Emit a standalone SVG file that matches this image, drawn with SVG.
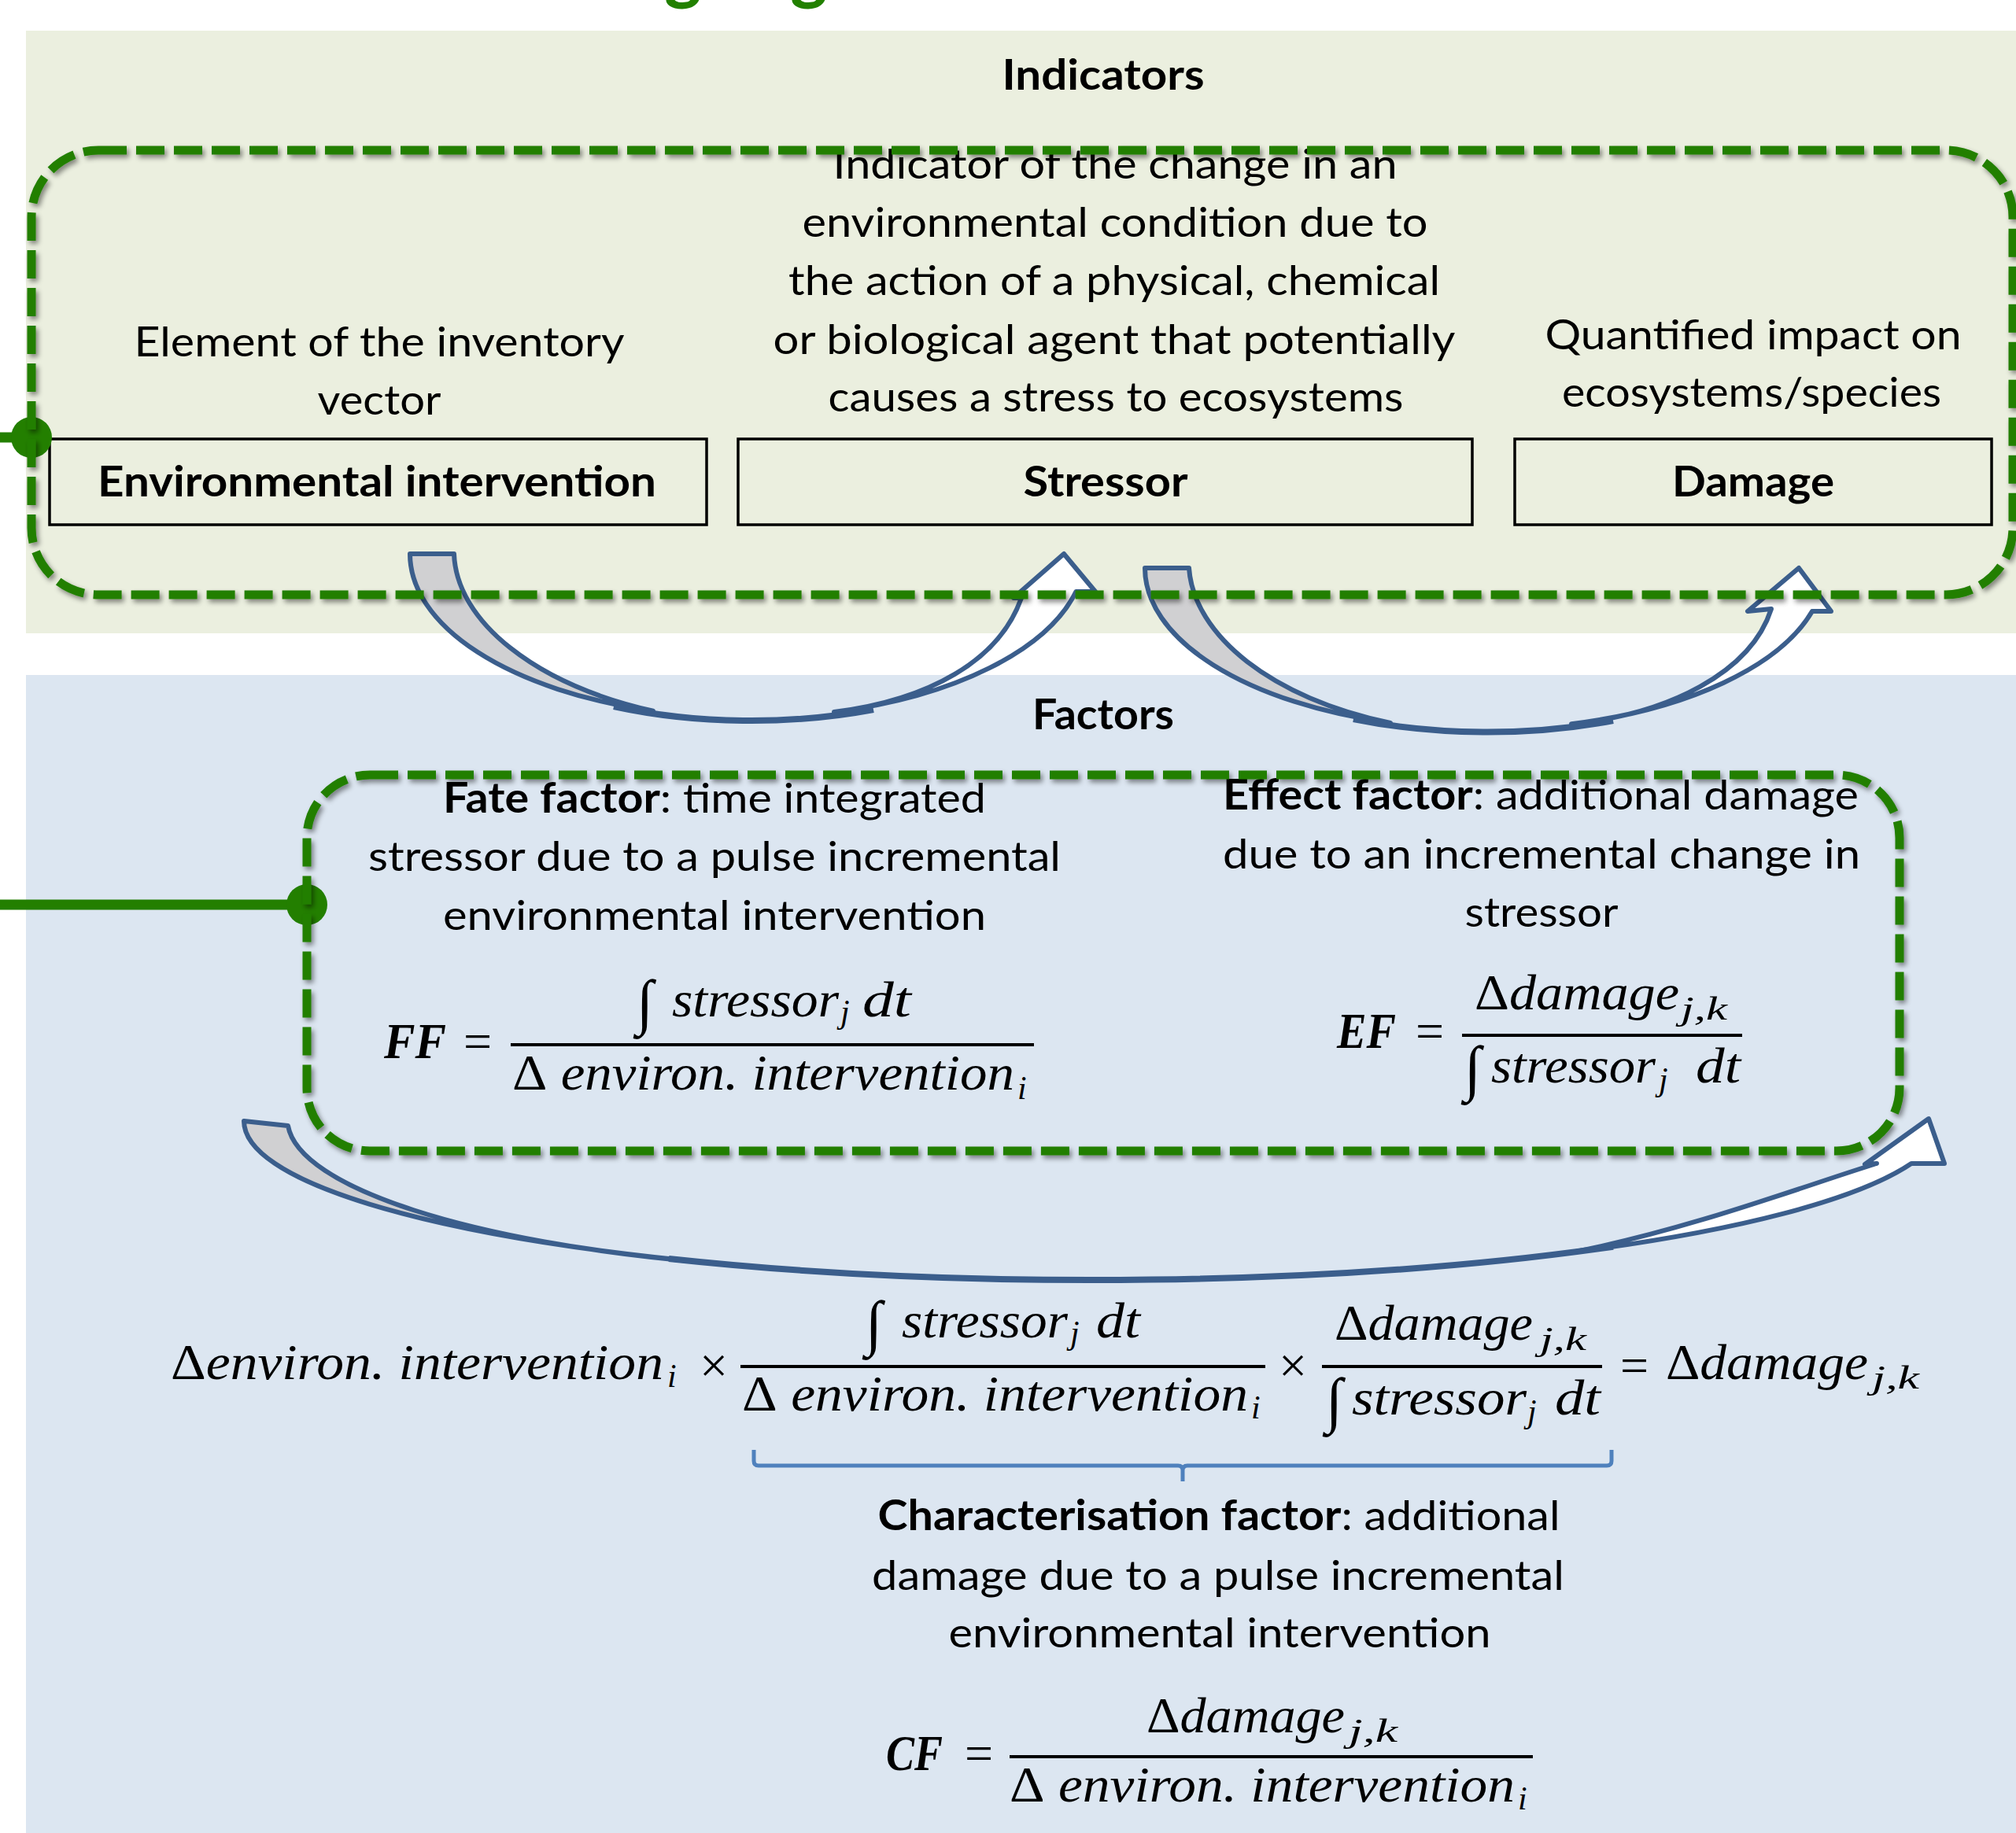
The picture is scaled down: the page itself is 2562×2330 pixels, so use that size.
<svg xmlns="http://www.w3.org/2000/svg" width="2562" height="2330" viewBox="0 0 2562 2330">
<style>
.t{font-family:Lato,'Liberation Sans',sans-serif;font-size:53px;fill:#000}
.b{font-weight:700}
.mc{text-anchor:middle}
.m{font-family:'Liberation Serif','DejaVu Serif',serif;font-style:italic;font-size:64px;fill:#000}
.up{font-style:normal}
.bi{font-weight:700;font-style:italic}
.sub{font-size:42px}
.box{fill:none;stroke:#000;stroke-width:3.5}
.dash{fill:none;stroke:#237F00;stroke-width:11;stroke-dasharray:36 12}
.arr{stroke:#3B5E8C;stroke-width:6;stroke-linejoin:round}
.gray{fill:#D0D0D2}
.wh{fill:#FFFFFF}
.bar{stroke:#000;stroke-width:4}
.conn{stroke:#237F00;stroke-width:13;fill:none}
.dot{fill:#237F00}
</style>
<defs>
<filter id="sh" x="-5%" y="-5%" width="110%" height="110%">
<feDropShadow dx="3" dy="4" stdDeviation="3" flood-color="#000" flood-opacity="0.45"/>
</filter>
</defs>
<rect width="2562" height="2330" fill="#FFFFFF"/>
<g id="title-fragment">
<text x="868" y="-5" style="font-family:Lato,sans-serif;font-weight:900;font-size:88px;fill:#228000" text-anchor="middle">g</text>
<text x="1028" y="-5" style="font-family:Lato,sans-serif;font-weight:900;font-size:88px;fill:#228000" text-anchor="middle">g</text>
</g>
<g id="panel-indicators">
<rect x="33" y="39" width="2529" height="766" fill="#EBEFDF"/>
<text class="t b mc" x="1402" y="114" textLength="257" lengthAdjust="spacingAndGlyphs">Indicators</text>
</g>
<g id="panel-factors">
<rect x="33" y="858" width="2529" height="1472" fill="#DCE6F1"/>
<text class="t b mc" x="1402" y="927" textLength="180" lengthAdjust="spacingAndGlyphs">Factors</text>
</g>
<g id="node-environmental-intervention">
<text class="t mc" x="482" y="453" textLength="623" lengthAdjust="spacingAndGlyphs">Element of the inventory</text>
<text class="t mc" x="482" y="527" textLength="157" lengthAdjust="spacingAndGlyphs">vector</text>
<rect class="box" x="63" y="558" width="835" height="109"/>
<text class="t b mc" x="479" y="631" textLength="710" lengthAdjust="spacingAndGlyphs">Environmental intervention</text>
</g>
<g id="node-stressor">
<text class="t mc" x="1417" y="227" textLength="717" lengthAdjust="spacingAndGlyphs">Indicator of the change in an</text>
<text class="t mc" x="1417" y="301" textLength="795" lengthAdjust="spacingAndGlyphs">environmental condition due to</text>
<text class="t mc" x="1416" y="375" textLength="828" lengthAdjust="spacingAndGlyphs">the action of a physical, chemical</text>
<text class="t mc" x="1416" y="450" textLength="867" lengthAdjust="spacingAndGlyphs">or biological agent that potentially</text>
<text class="t mc" x="1418" y="523" textLength="731" lengthAdjust="spacingAndGlyphs">causes a stress to ecosystems</text>
<rect class="box" x="938" y="558" width="933" height="109"/>
<text class="t b mc" x="1405" y="631" textLength="209" lengthAdjust="spacingAndGlyphs">Stressor</text>
</g>
<g id="node-damage">
<text class="t mc" x="2228" y="444" textLength="529" lengthAdjust="spacingAndGlyphs">Quantified impact on</text>
<text class="t mc" x="2226" y="517" textLength="482" lengthAdjust="spacingAndGlyphs">ecosystems/species</text>
<rect class="box" x="1925" y="558" width="606" height="109"/>
<text class="t b mc" x="2228" y="631" textLength="206" lengthAdjust="spacingAndGlyphs">Damage</text>
</g>
<g id="node-fate-factor">
<text class="t mc" x="908" y="1033" textLength="690" lengthAdjust="spacingAndGlyphs"><tspan class="b">Fate factor</tspan>: time integrated</text>
<text class="t mc" x="908" y="1107" textLength="880" lengthAdjust="spacingAndGlyphs">stressor due to a pulse incremental</text>
<text class="t mc" x="908" y="1182" textLength="690" lengthAdjust="spacingAndGlyphs">environmental intervention</text>
<text class="m bi" x="488" y="1345" textLength="79" lengthAdjust="spacingAndGlyphs">FF</text>
<text class="m up mc" x="607" y="1345">=</text>
<line class="bar" x1="649" y1="1328" x2="1314" y2="1328"/>
<text class="m up" x="809" y="1300" style="font-size:78px">∫</text>
<text class="m" x="854" y="1292" textLength="212" lengthAdjust="spacingAndGlyphs">stressor</text>
<text class="m sub" x="1068" y="1300">j</text>
<text class="m" x="1096" y="1292" textLength="62" lengthAdjust="spacingAndGlyphs">dt</text>
<text class="m" x="651" y="1385" textLength="638" lengthAdjust="spacingAndGlyphs"><tspan class="up">Δ</tspan> environ. intervention</text>
<text class="m sub" x="1293" y="1397">i</text>
</g>
<g id="node-effect-factor">
<text class="t mc" x="1958" y="1029" textLength="808" lengthAdjust="spacingAndGlyphs"><tspan class="b">Effect factor</tspan>: additional damage</text>
<text class="t mc" x="1959" y="1104" textLength="810" lengthAdjust="spacingAndGlyphs">due to an incremental change in</text>
<text class="t mc" x="1959" y="1178" textLength="195" lengthAdjust="spacingAndGlyphs">stressor</text>
<text class="m bi" x="1699" y="1332" textLength="75" lengthAdjust="spacingAndGlyphs">EF</text>
<text class="m up mc" x="1817" y="1332">=</text>
<line class="bar" x1="1858" y1="1316" x2="2214" y2="1316"/>
<text class="m" x="1874" y="1283" textLength="260" lengthAdjust="spacingAndGlyphs"><tspan class="up">Δ</tspan>damage</text>
<text class="m sub" x="2136" y="1296" textLength="59" lengthAdjust="spacingAndGlyphs">j,k</text>
<text class="m up" x="1861" y="1384" style="font-size:78px">∫</text>
<text class="m" x="1895" y="1376" textLength="209" lengthAdjust="spacingAndGlyphs">stressor</text>
<text class="m sub" x="2108" y="1386">j</text>
<text class="m" x="2155" y="1376" textLength="57" lengthAdjust="spacingAndGlyphs">dt</text>
</g>
<g id="node-equation">
<text class="m" x="217" y="1753" textLength="626" lengthAdjust="spacingAndGlyphs"><tspan class="up">Δ</tspan>environ. intervention</text>
<text class="m sub" x="848" y="1763">i</text>
<text class="m up mc" x="907" y="1757">×</text>
<line class="bar" x1="941" y1="1737" x2="1608" y2="1737"/>
<text class="m up" x="1100" y="1708" style="font-size:78px">∫</text>
<text class="m" x="1146" y="1700" textLength="211" lengthAdjust="spacingAndGlyphs">stressor</text>
<text class="m sub" x="1360" y="1708">j</text>
<text class="m" x="1393" y="1700" textLength="56" lengthAdjust="spacingAndGlyphs">dt</text>
<text class="m" x="943" y="1793" textLength="643" lengthAdjust="spacingAndGlyphs"><tspan class="up">Δ</tspan> environ. intervention</text>
<text class="m sub" x="1590" y="1803">i</text>
<text class="m up mc" x="1643" y="1757">×</text>
<line class="bar" x1="1680" y1="1737" x2="2036" y2="1737"/>
<text class="m" x="1696" y="1703" textLength="252" lengthAdjust="spacingAndGlyphs"><tspan class="up">Δ</tspan>damage</text>
<text class="m sub" x="1957" y="1716" textLength="59" lengthAdjust="spacingAndGlyphs">j,k</text>
<text class="m up" x="1685" y="1806" style="font-size:78px">∫</text>
<text class="m" x="1718" y="1798" textLength="222" lengthAdjust="spacingAndGlyphs">stressor</text>
<text class="m sub" x="1941" y="1808">j</text>
<text class="m" x="1976" y="1798" textLength="58" lengthAdjust="spacingAndGlyphs">dt</text>
<text class="m up mc" x="2077" y="1757">=</text>
<text class="m" x="2117" y="1753" textLength="257" lengthAdjust="spacingAndGlyphs"><tspan class="up">Δ</tspan>damage</text>
<text class="m sub" x="2379" y="1765" textLength="60" lengthAdjust="spacingAndGlyphs">j,k</text>
<path d="M958,1843 L958,1857 Q958,1863 964,1863 L1497,1863 Q1503,1863 1503,1869 L1503,1883 M1503,1869 Q1503,1863 1509,1863 L2042,1863 Q2048,1863 2048,1857 L2048,1843" fill="none" stroke="#4F81BD" stroke-width="5"/>
</g>
<g id="node-characterisation-factor">
<text class="t mc" x="1549" y="1945" textLength="867" lengthAdjust="spacingAndGlyphs"><tspan class="b">Characterisation factor</tspan>: additional</text>
<text class="t mc" x="1548" y="2021" textLength="880" lengthAdjust="spacingAndGlyphs">damage due to a pulse incremental</text>
<text class="t mc" x="1550" y="2094" textLength="689" lengthAdjust="spacingAndGlyphs">environmental intervention</text>
<text class="m bi" x="1126" y="2250" textLength="72" lengthAdjust="spacingAndGlyphs">CF</text>
<text class="m up mc" x="1244" y="2250">=</text>
<line class="bar" x1="1283" y1="2233" x2="1948" y2="2233"/>
<text class="m" x="1457" y="2202" textLength="252" lengthAdjust="spacingAndGlyphs"><tspan class="up">Δ</tspan>damage</text>
<text class="m sub" x="1714" y="2214" textLength="62" lengthAdjust="spacingAndGlyphs">j,k</text>
<text class="m" x="1283" y="2290" textLength="642" lengthAdjust="spacingAndGlyphs"><tspan class="up">Δ</tspan> environ. intervention</text>
<text class="m sub" x="1929" y="2300">i</text>
</g>
<g id="connectors">
<g id="arrow-env-to-stressor">
<path class="arr gray" d="M521,704 A429,208 0 0 0 830,903.7 C680,870 580,790 577,704 Z"/>
<path class="arr wh" d="M1060,905.1 A429,208 0 0 0 1367.4,752 L1392,752 L1352,704 L1288,760 L1298,760 C1270,840 1180,890 1060,905.1 Z"/>
<path class="arr" fill="none" style="stroke-width:8" d="M780,898 A429,208 0 0 0 1110,902"/>
</g>
<g id="arrow-stressor-to-damage">
<path class="arr gray" d="M1455,722 A432,205 0 0 0 1767,918.9 C1617,888 1517,808 1511,722 Z"/>
<path class="arr wh" d="M1997,920.2 A432,205 0 0 0 2303,777 L2327,777 L2286,722 L2221,777 L2251,774 C2225,855 2120,908 1997,920.2 Z"/>
<path class="arr" fill="none" style="stroke-width:8" d="M1720,914 A432,205 0 0 0 2050,916"/>
</g>
<g id="arrow-fate-effect-to-cf">
<path class="arr gray" d="M310,1425 A1079,202 0 0 0 900,1605 C600,1580 380,1510 366,1431 Z"/>
<path class="arr wh" d="M2000,1591.5 A1079,202 0 0 0 2429,1479 L2471,1479 L2451,1422 L2370,1480 L2385,1479 C2300,1505 2150,1562 2000,1591.5 Z"/>
<path class="arr" fill="none" style="stroke-width:8" d="M850,1600 A1079,202 0 0 0 2050,1584.7"/>
</g>
<path class="conn" d="M0,556 L40,556"/>
<circle class="dot" cx="40" cy="556" r="26"/>
<path class="conn" d="M0,1150 L390,1150"/>
<circle class="dot" cx="390" cy="1150" r="26"/>
</g>
<g id="group-indicators-frame">
<rect class="dash" x="40" y="191" width="2518" height="565" rx="85" ry="85" filter="url(#sh)"/>
</g>
<g id="group-factors-frame">
<rect class="dash" x="390" y="985" width="2024" height="478" rx="80" ry="80" filter="url(#sh)"/>
</g>
</svg>
